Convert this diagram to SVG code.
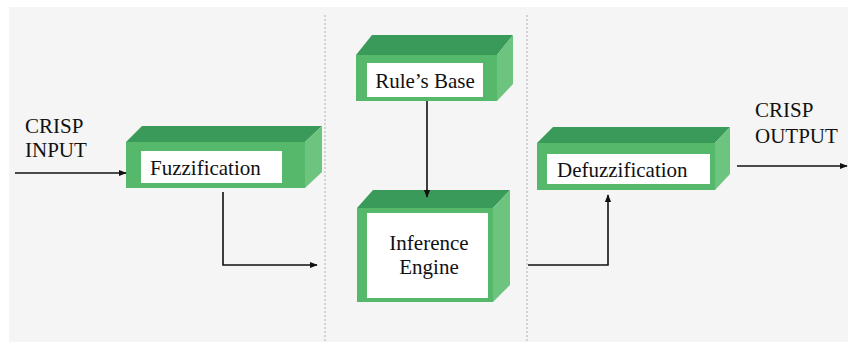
<svg xmlns="http://www.w3.org/2000/svg" width="848" height="342" viewBox="0 0 848 342">
<defs>
<style>
.front{fill:#55b86a}
.top{fill:#3a9a5a}
.side{fill:#6cc47f}
.lbl{fill:#ffffff}
.t{font-family:'Liberation Serif','DejaVu Serif','Times New Roman',serif;font-size:21px;fill:#111}
.c{fill:none;stroke:#111;stroke-width:1.6}
.sep{stroke:#c8c8c8;stroke-width:1.5;stroke-dasharray:2,2}
</style>
<marker id="ah" viewBox="0 0 10 10" refX="9" refY="5" markerWidth="8" markerHeight="8" markerUnits="userSpaceOnUse" orient="auto">
<path d="M0,1 L10,5 L0,9 Z" fill="#111"/>
</marker>
</defs>
<rect x="0" y="0" width="848" height="342" fill="#ffffff"/>
<rect x="9" y="7" width="839" height="335" fill="#f5f5f5"/>
<line class="sep" x1="325" y1="15" x2="325" y2="342"/>
<line class="sep" x1="527" y1="15" x2="527" y2="342"/>

<g id="fuzzification">
<polygon class="top" points="126,142 142,126 322,126 305,142"/>
<polygon class="side" points="305,142 322,126 322,172 305,188"/>
<rect class="front" x="126" y="142" width="179" height="46"/>
<rect class="lbl" x="141" y="151" width="141" height="32"/>
<text class="t" x="150" y="175" font-family="'Liberation Serif', serif">Fuzzification</text>
</g>

<g id="rules-base">
<polygon class="top" points="356,55 372,35 513,35 497,55"/>
<polygon class="side" points="497,55 513,35 513,84 497,101"/>
<rect class="front" x="356" y="55" width="141" height="46"/>
<rect class="lbl" x="367" y="63" width="116" height="34"/>
<text class="t" x="425" y="88" text-anchor="middle" font-family="'Liberation Serif', serif">Rule’s Base</text>
</g>

<g id="inference-engine">
<polygon class="top" points="357,208 373,190 510,190 493,208"/>
<polygon class="side" points="493,208 510,190 510,285 493,302"/>
<rect class="front" x="357" y="208" width="136" height="94"/>
<rect class="lbl" x="367" y="213" width="121" height="85"/>
<text class="t" x="429" y="250" text-anchor="middle" font-family="'Liberation Serif', serif">Inference</text>
<text class="t" x="429" y="274" text-anchor="middle" font-family="'Liberation Serif', serif">Engine</text>
</g>

<g id="defuzzification">
<polygon class="top" points="537,143 553,127 730,127 715,143"/>
<polygon class="side" points="715,143 730,127 730,174 715,190"/>
<rect class="front" x="537" y="143" width="178" height="47"/>
<rect class="lbl" x="547" y="154" width="163" height="30"/>
<text class="t" x="557" y="177" font-family="'Liberation Serif', serif">Defuzzification</text>
</g>

<g id="crisp-input">
<text class="t" x="25" y="133" font-family="'Liberation Serif', serif">CRISP</text>
<text class="t" x="25" y="157" font-family="'Liberation Serif', serif">INPUT</text>
</g>
<g id="crisp-output">
<text class="t" x="755" y="117" font-family="'Liberation Serif', serif">CRISP</text>
<text class="t" x="755" y="143" font-family="'Liberation Serif', serif">OUTPUT</text>
</g>

<g id="connectors">
<line class="c" x1="15" y1="173" x2="126" y2="173" marker-end="url(#ah)"/>
<polyline class="c" points="223,192 223,265 317,265" marker-end="url(#ah)"/>
<line class="c" x1="427" y1="101" x2="427" y2="197" marker-end="url(#ah)"/>
<polyline class="c" points="528,265 608,265 608,195" marker-end="url(#ah)"/>
<line class="c" x1="737" y1="166" x2="847" y2="166" marker-end="url(#ah)"/>
</g>
</svg>
